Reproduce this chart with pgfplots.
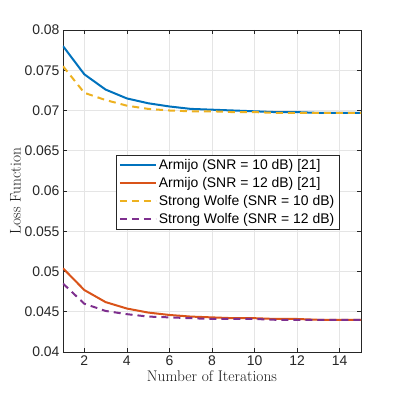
\documentclass[border=0pt]{standalone}
\usepackage{fontspec}
\usepackage{pgfplots}
\pgfplotsset{compat=1.18}
\newfontfamily\arialfont{Liberation Sans}
\definecolor{mblue}{rgb}{0,0.447,0.741}
\definecolor{morange}{rgb}{0.85,0.325,0.098}
\definecolor{myellow}{rgb}{0.929,0.694,0.125}
\definecolor{mpurple}{rgb}{0.494,0.184,0.556}
\definecolor{axgray}{rgb}{0.15,0.15,0.15}

\begin{document}
\begin{tikzpicture}
\useasboundingbox (-63bp,-43bp) rectangle (336bp,352bp);
\begin{axis}[
    at={(0,0)}, anchor=south west,
    scale only axis,
    width=298bp, height=322bp,
    xmin=1, xmax=15,
    ymin=0.04, ymax=0.08,
    xtick={2,4,...,14},
    ytick={0.04,0.045,...,0.0801},
    scaled y ticks=false,
    yticklabel style={/pgf/number format/fixed, /pgf/number format/precision=3},
    /pgf/number format/assume math mode=true,
    tick label style={font=\arialfont\fontsize{14}{16}\selectfont, color=axgray},
    label style={font=\fontsize{15.5}{18}\selectfont, color=black!90},
    xlabel={Number of Iterations},
    ylabel={Loss Function},
    xlabel style={yshift=2bp},
    ylabel style={yshift=-3bp},
    tick align=inside,
    xtick pos=both, ytick pos=both,
    major tick length=4bp,
    axis line style={color=axgray, line width=0.6bp},
    every tick/.style={color=axgray, line width=0.6bp},
    grid=major,
    major grid style={color=black!10, line width=0.5bp},
    legend cell align=left,
    legend style={
        at={(0.926,0.612)}, anchor=north east,
        font=\arialfont\fontsize{14}{16}\selectfont,
        draw=axgray,
        inner sep=2.5bp,
        row sep=2.3bp,
        nodes={inner sep=2bp},
    },
    legend image code/.code={\draw[#1, line width=2.1bp] (0bp,0bp) -- (36bp,0bp);},
]
\addplot[color=mblue, line width=2bp] coordinates {
    (1,0.0780) (2,0.0745) (3,0.0726) (4,0.0715) (5,0.0709)
    (6,0.0705) (7,0.0702) (8,0.0701) (9,0.0700) (10,0.0699)
    (11,0.0698) (12,0.0698) (13,0.0697) (14,0.0697) (15,0.0697)
};
\addlegendentry{Armijo (SNR = 10 dB) [21]}
\addplot[color=morange, line width=2bp] coordinates {
    (1,0.0504) (2,0.0477) (3,0.0462) (4,0.0454) (5,0.0449)
    (6,0.0446) (7,0.0444) (8,0.0443) (9,0.0442) (10,0.0442)
    (11,0.0441) (12,0.0441) (13,0.0440) (14,0.0440) (15,0.0440)
};
\addlegendentry{Armijo (SNR = 12 dB) [21]}
\addplot[color=myellow, line width=2bp, dash pattern=on 7bp off 5bp] coordinates {
    (1,0.0755) (2,0.0722) (3,0.0713) (4,0.0706) (5,0.0702)
    (6,0.0700) (7,0.0699) (8,0.0699) (9,0.0698) (10,0.0698)
    (11,0.0697) (12,0.0697) (13,0.0697) (14,0.0697) (15,0.0697)
};
\addlegendentry{Strong Wolfe (SNR = 10 dB)}
\addplot[color=mpurple, line width=2bp, dash pattern=on 7bp off 5bp] coordinates {
    (1,0.0485) (2,0.0460) (3,0.0451) (4,0.0447) (5,0.0444)
    (6,0.0443) (7,0.0442) (8,0.0441) (9,0.0441) (10,0.0441)
    (11,0.0440) (12,0.0440) (13,0.0440) (14,0.0440) (15,0.0440)
};
\addlegendentry{Strong Wolfe (SNR = 12 dB)}
\end{axis}
\end{tikzpicture}
\end{document}
